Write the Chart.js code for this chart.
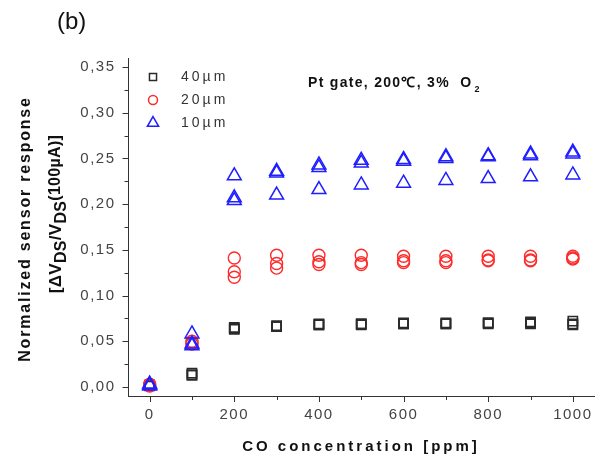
<!DOCTYPE html>
<html lang="en">
<head>
  <meta charset="UTF-8" />
  <title>Normalized sensor response vs CO concentration</title>
  <script src="https://cdn.jsdelivr.net/npm/chart.js"></script>
  <style>
    html, body { margin: 0; padding: 0; background: #fff; }
  </style>
</head>
<body>
  <canvas id="myChart" width="605" height="463"></canvas>

  <script>
    // CO concentration (ppm), same for every run
    const conc = [0, 100, 200, 300, 400, 500, 600, 700, 800, 900, 1000];

    // 40 um gate (squares), three runs
    const w40a = [0.002, 0.015, 0.065, 0.067, 0.069, 0.069, 0.070, 0.070, 0.070, 0.071, 0.072];
    const w40b = [0.001, 0.013, 0.063, 0.066, 0.068, 0.068, 0.069, 0.069, 0.069, 0.070, 0.069];
    const w40c = [0.002, 0.013, 0.064, 0.066, 0.068, 0.069, 0.069, 0.069, 0.070, 0.069, 0.068];

    // 20 um gate (circles)
    const w20a = [0.003, 0.050, 0.141, 0.144, 0.144, 0.144, 0.143, 0.143, 0.143, 0.143, 0.143];
    const w20b = [0.002, 0.048, 0.126, 0.135, 0.137, 0.136, 0.138, 0.138, 0.139, 0.139, 0.141];
    const w20c = [0.001, 0.047, 0.120, 0.130, 0.134, 0.134, 0.136, 0.136, 0.138, 0.138, 0.140];

    // 10 um gate (triangles)
    const w10a = [0.003, 0.058, 0.231, 0.236, 0.243, 0.248, 0.249, 0.252, 0.253, 0.255, 0.257];
    const w10b = [0.002, 0.047, 0.207, 0.234, 0.240, 0.245, 0.247, 0.250, 0.252, 0.253, 0.255];
    const w10c = [0.001, 0.045, 0.204, 0.210, 0.216, 0.221, 0.223, 0.226, 0.228, 0.230, 0.232];

    const seriesNames = ['40\u00b5m', '20\u00b5m', '10\u00b5m'];
    const xTicks = [0, 200, 400, 600, 800, 1000];
    const xMinor = [100, 300, 500, 700, 900];
    const yTicks = [0, 0.05, 0.10, 0.15, 0.20, 0.25, 0.30, 0.35];
    const yMinor = [0.025, 0.075, 0.125, 0.175, 0.225, 0.275, 0.325];

    const toPts = (...runs) => runs.flatMap(r => r.map((v, i) => ({ x: conc[i], y: v })));

    const black = '#2a2a2a', red = '#ff2a2a', blue = '#1f1fff';
    const FONT = '"Liberation Sans", Arial, sans-serif';

    // ticks, legend, note and axis titles
    const deco = {
      id: 'deco',
      beforeDraw(chart) {
        chart.ctx.letterSpacing = '1.5px';
      },
      afterDraw(chart) {
        const { ctx, scales: { x, y }, chartArea: a } = chart;
        ctx.save();
        ctx.letterSpacing = '0px';
        ctx.strokeStyle = '#333';
        ctx.lineWidth = 1;
        ctx.beginPath();
        xTicks.forEach(v => { const p = Math.round(x.getPixelForValue(v)) + 0.5; ctx.moveTo(p, a.bottom); ctx.lineTo(p, a.bottom + 6); });
        xMinor.forEach(v => { const p = Math.round(x.getPixelForValue(v)) + 0.5; ctx.moveTo(p, a.bottom); ctx.lineTo(p, a.bottom + 4); });
        yTicks.forEach(v => { const p = Math.round(y.getPixelForValue(v)) + 0.5; ctx.moveTo(a.left, p); ctx.lineTo(a.left - 6, p); });
        yMinor.forEach(v => { const p = Math.round(y.getPixelForValue(v)) + 0.5; ctx.moveTo(a.left, p); ctx.lineTo(a.left - 4, p); });
        ctx.stroke();

        // legend inside the plot
        const styles = [['rect', black, 5], ['circle', red, 4.5], ['triangle', blue, 6.5]];
        ctx.font = '14px ' + FONT;
        ctx.textBaseline = 'middle';
        styles.forEach((s, i) => {
          const ly = 77 + i * 23;
          ctx.lineWidth = 1.5;
          ctx.strokeStyle = s[1];
          ctx.fillStyle = 'rgba(0,0,0,0)';
          Chart.helpers.drawPoint(ctx, { pointStyle: s[0], radius: s[2], borderWidth: 1.5 }, 153, ly);
          ctx.fillStyle = '#333';
          ctx.letterSpacing = '3px';
          ctx.fillText(seriesNames[i], 181, ly);
        });

        // note
        ctx.fillStyle = '#111';
        ctx.letterSpacing = '1.3px';
        ctx.font = 'bold 14px ' + FONT;
        ctx.textBaseline = 'alphabetic';
        const note = 'Pt gate, 200\u2103, 3%  O';
        ctx.fillText(note, 308, 87);
        const nw = ctx.measureText(note).width;
        ctx.font = 'bold 9px ' + FONT;
        ctx.fillText('2', 308 + nw + 2, 92);

        // x title
        ctx.font = 'bold 15px ' + FONT;
        ctx.letterSpacing = '3px';
        ctx.textAlign = 'center';
        ctx.textBaseline = 'middle';
        ctx.fillText('CO concentration [ppm]', 361, 447);

        // panel label
        ctx.font = '24px ' + FONT;
        ctx.letterSpacing = '0px';
        ctx.textAlign = 'left';
        ctx.fillText('(b)', 57, 22);

        // y title, two lines with subscripts
        ctx.translate(26, 229);
        ctx.rotate(-Math.PI / 2);
        ctx.font = 'bold 16px ' + FONT;
        ctx.letterSpacing = '1.8px';
        ctx.textAlign = 'center';
        ctx.fillText('Normalized sensor response', 0, 0);
        ctx.textAlign = 'left';
        const parts = [
          ['[\u0394V', 17, 0], ['DS', 16, 6], ['/V', 17, 0], ['DS', 16, 6], ['(100\u00b5A)]', 16, 0]
        ];
        ctx.letterSpacing = '0.3px';
        let total = 0;
        parts.forEach(p => { ctx.font = 'bold ' + p[1] + 'px ' + FONT; total += ctx.measureText(p[0]).width; });
        let cx = -total / 2 + 15;
        parts.forEach(p => {
          ctx.font = 'bold ' + p[1] + 'px ' + FONT;
          ctx.fillText(p[0], cx, 30 + p[2]);
          cx += ctx.measureText(p[0]).width;
        });
        ctx.restore();
      }
    };

    new Chart(document.getElementById('myChart'), {
      type: 'scatter',
      data: {
        datasets: [
          { label: seriesNames[0], data: toPts(w40a, w40b, w40c), pointStyle: 'rect', pointRadius: 6.5,
            borderColor: black, backgroundColor: 'transparent', pointBorderWidth: 1.6, order: 3 },
          { label: seriesNames[1], data: toPts(w20a, w20b, w20c), pointStyle: 'circle', pointRadius: 6,
            borderColor: red, backgroundColor: 'transparent', pointBorderWidth: 1.4, order: 2 },
          { label: seriesNames[2], data: toPts(w10a, w10b, w10c), pointStyle: 'triangle', pointRadius: 8,
            borderColor: blue, backgroundColor: 'transparent', pointBorderWidth: 1.5, order: 1 }
        ]
      },
      options: {
        responsive: false,
        animation: false,
        events: [],
        layout: { padding: { top: 58, right: 11, left: 0, bottom: 0 } },
        scales: {
          x: {
            type: 'linear', min: -50, max: 1050,
            afterFit: s => { s.height = 67; },
            afterBuildTicks: s => { s.ticks = xTicks.map(v => ({ value: v })); },
            grid: { display: false, drawTicks: false },
            border: { display: true, color: '#333', width: 1 },
            ticks: { padding: 10, color: '#444', maxRotation: 0, font: { size: 15, family: FONT },
              callback: v => String(v) }
          },
          y: {
            type: 'linear', min: -0.01, max: 0.36,
            afterFit: s => { s.width = 128.5; },
            afterBuildTicks: s => { s.ticks = yTicks.map(v => ({ value: v })); },
            grid: { display: false, drawTicks: false },
            border: { display: true, color: '#333', width: 1 },
            ticks: {
              padding: 13, color: '#444', font: { size: 15, family: FONT },
              callback: v => v.toFixed(2).replace('.', ',')
            }
          }
        },
        plugins: { legend: { display: false }, tooltip: { enabled: false } }
      },
      plugins: [deco]
    });
  </script>
</body>
</html>
